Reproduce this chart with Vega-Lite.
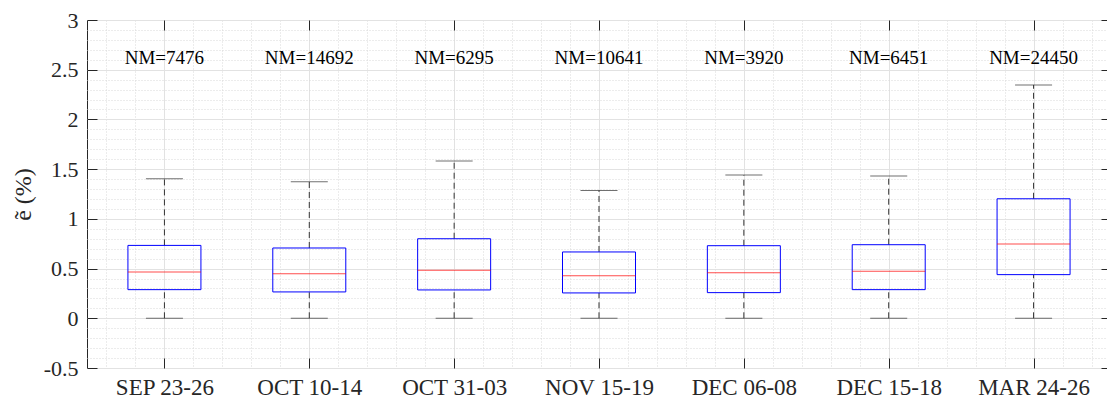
{
  "$schema": "https://vega.github.io/schema/vega-lite/v6.json",
  "width": 1024,
  "height": 348,
  "autosize": {"type": "none"},
  "padding": {"left": 87, "top": 20, "right": -4, "bottom": 32},
  "background": "white",
  "config": {
    "view": {"stroke": "#262626", "strokeWidth": 1},
    "font": "Liberation Serif",
    "axis": {"labelFont": "Liberation Serif", "titleFont": "Liberation Serif"}
  },
  "data": {
    "values": [
      {"period": "SEP 23-26", "pos": 1, "lower": 0, "q1": 0.288, "median": 0.466, "q3": 0.733, "upper": 1.403, "nm": 7476},
      {"period": "OCT 10-14", "pos": 2, "lower": 0, "q1": 0.265, "median": 0.449, "q3": 0.707, "upper": 1.373, "nm": 14692},
      {"period": "OCT 31-03", "pos": 3, "lower": 0, "q1": 0.285, "median": 0.482, "q3": 0.8, "upper": 1.581, "nm": 6295},
      {"period": "NOV 15-19", "pos": 4, "lower": 0, "q1": 0.255, "median": 0.429, "q3": 0.667, "upper": 1.286, "nm": 10641},
      {"period": "DEC 06-08", "pos": 5, "lower": 0, "q1": 0.258, "median": 0.459, "q3": 0.73, "upper": 1.44, "nm": 3920},
      {"period": "DEC 15-18", "pos": 6, "lower": 0, "q1": 0.288, "median": 0.472, "q3": 0.74, "upper": 1.43, "nm": 6451},
      {"period": "MAR 24-26", "pos": 7, "lower": 0, "q1": 0.439, "median": 0.747, "q3": 1.202, "upper": 2.347, "nm": 24450}
    ]
  },
  "resolve": {"axis": {"x": "independent", "y": "independent"}},
  "layer": [
    {
      "mark": {"type": "rule", "stroke": "#333333", "strokeWidth": 1, "strokeDash": [6, 4]},
      "encoding": {
        "x": {"field": "pos", "type": "quantitative",
          "scale": {"domain": [0.5, 7.5], "nice": false, "zero": false},
          "axis": {"orient": "bottom", "title": null, "labels": false, "ticks": false, "domain": false,
            "values": [0.6, 0.8, 1.2, 1.4, 1.6, 1.8, 2.2, 2.4, 2.6, 2.8, 3.2, 3.4, 3.6, 3.8, 4.2, 4.4, 4.6, 4.8, 5.2, 5.4, 5.6, 5.8, 6.2, 6.4, 6.6, 6.8, 7.2, 7.4],
            "grid": true, "gridColor": "#d9d9d9", "gridDash": [1, 2], "gridWidth": 1}},
        "y": {"field": "q3", "type": "quantitative",
          "scale": {"domain": [-0.5, 3], "nice": false, "zero": false},
          "axis": {"orient": "left", "title": null, "labels": false, "ticks": false, "domain": false,
            "values": [-0.4, -0.3, -0.2, -0.1, 0.1, 0.2, 0.3, 0.4, 0.6, 0.7, 0.8, 0.9, 1.1, 1.2, 1.3, 1.4, 1.6, 1.7, 1.8, 1.9, 2.1, 2.2, 2.3, 2.4, 2.6, 2.7, 2.8, 2.9],
            "grid": true, "gridColor": "#d9d9d9", "gridDash": [1, 2], "gridWidth": 1}},
        "y2": {"field": "upper"}
      }
    },
    {
      "mark": {"type": "rule", "stroke": "#333333", "strokeWidth": 1, "strokeDash": [6, 4]},
      "encoding": {
        "x": {"field": "pos", "type": "quantitative",
          "axis": {"orient": "bottom", "title": null, "ticks": false, "tickSize": 0, "domain": false,
            "values": [1, 2, 3, 4, 5, 6, 7],
            "labelExpr": "['', 'SEP 23-26', 'OCT 10-14', 'OCT 31-03', 'NOV 15-19', 'DEC 06-08', 'DEC 15-18', 'MAR 24-26'][datum.value]",
            "labelFontSize": 23, "labelColor": "#262626", "labelPadding": 8,
            "grid": true, "gridColor": "#e2e2e2", "gridWidth": 1}},
        "y": {"field": "lower", "type": "quantitative",
          "axis": {"orient": "left", "ticks": false, "tickSize": 0, "domain": false,
            "values": [-0.5, 0, 0.5, 1, 1.5, 2, 2.5, 3],
            "labelExpr": "'' + datum.value",
            "labelFontSize": 22, "labelColor": "#262626", "labelPadding": 9,
            "grid": true, "gridColor": "#e2e2e2", "gridWidth": 1,
            "title": "ẽ (%)", "titleFontSize": 24, "titleFontWeight": "normal", "titleColor": "#262626",
            "titleX": -64, "titleY": 174, "titleAngle": -90, "titleAlign": "center", "titleBaseline": "middle"}},
        "y2": {"field": "q1"}
      }
    },
    {
      "mark": {"type": "bar", "size": 73, "fill": "transparent", "stroke": "#0000ff", "strokeWidth": 1},
      "encoding": {
        "x": {"field": "pos", "type": "quantitative",
          "axis": {"orient": "bottom", "title": null, "labels": false, "grid": false, "domain": false,
            "values": [1, 2, 3, 4, 5, 6, 7], "ticks": true, "tickSize": -10, "tickColor": "#262626"}},
        "y": {"field": "q1", "type": "quantitative",
          "axis": {"orient": "left", "title": null, "labels": false, "grid": false, "domain": false,
            "values": [-0.5, 0, 0.5, 1, 1.5, 2, 2.5, 3], "ticks": true, "tickSize": -10, "tickColor": "#262626"}},
        "y2": {"field": "q3"}
      }
    },
    {
      "mark": {"type": "tick", "orient": "horizontal", "size": 73, "thickness": 1, "color": "#ff0000"},
      "encoding": {
        "x": {"field": "pos", "type": "quantitative",
          "axis": {"orient": "top", "title": null, "labels": false, "grid": false, "domain": false,
            "values": [1, 2, 3, 4, 5, 6, 7], "ticks": true, "tickSize": -10, "tickColor": "#262626"}},
        "y": {"field": "median", "type": "quantitative",
          "axis": {"orient": "right", "title": null, "labels": false, "grid": false, "domain": false,
            "values": [-0.5, 0, 0.5, 1, 1.5, 2, 2.5, 3], "ticks": true, "tickSize": -10, "tickColor": "#262626"}}
      }
    },
    {
      "mark": {"type": "tick", "orient": "horizontal", "size": 37, "thickness": 1, "color": "#333333"},
      "encoding": {
        "x": {"field": "pos", "type": "quantitative", "axis": null},
        "y": {"field": "upper", "type": "quantitative", "axis": null}
      }
    },
    {
      "mark": {"type": "tick", "orient": "horizontal", "size": 37, "thickness": 1, "color": "#333333"},
      "encoding": {
        "x": {"field": "pos", "type": "quantitative", "axis": null},
        "y": {"field": "lower", "type": "quantitative", "axis": null}
      }
    },
    {
      "transform": [{"calculate": "'NM=' + datum.nm", "as": "label"}],
      "mark": {"type": "text", "fontSize": 19, "color": "#000000", "baseline": "middle", "align": "center"},
      "encoding": {
        "x": {"field": "pos", "type": "quantitative", "axis": null},
        "y": {"datum": 2.62, "type": "quantitative", "axis": null},
        "text": {"field": "label"}
      }
    }
  ]
}
